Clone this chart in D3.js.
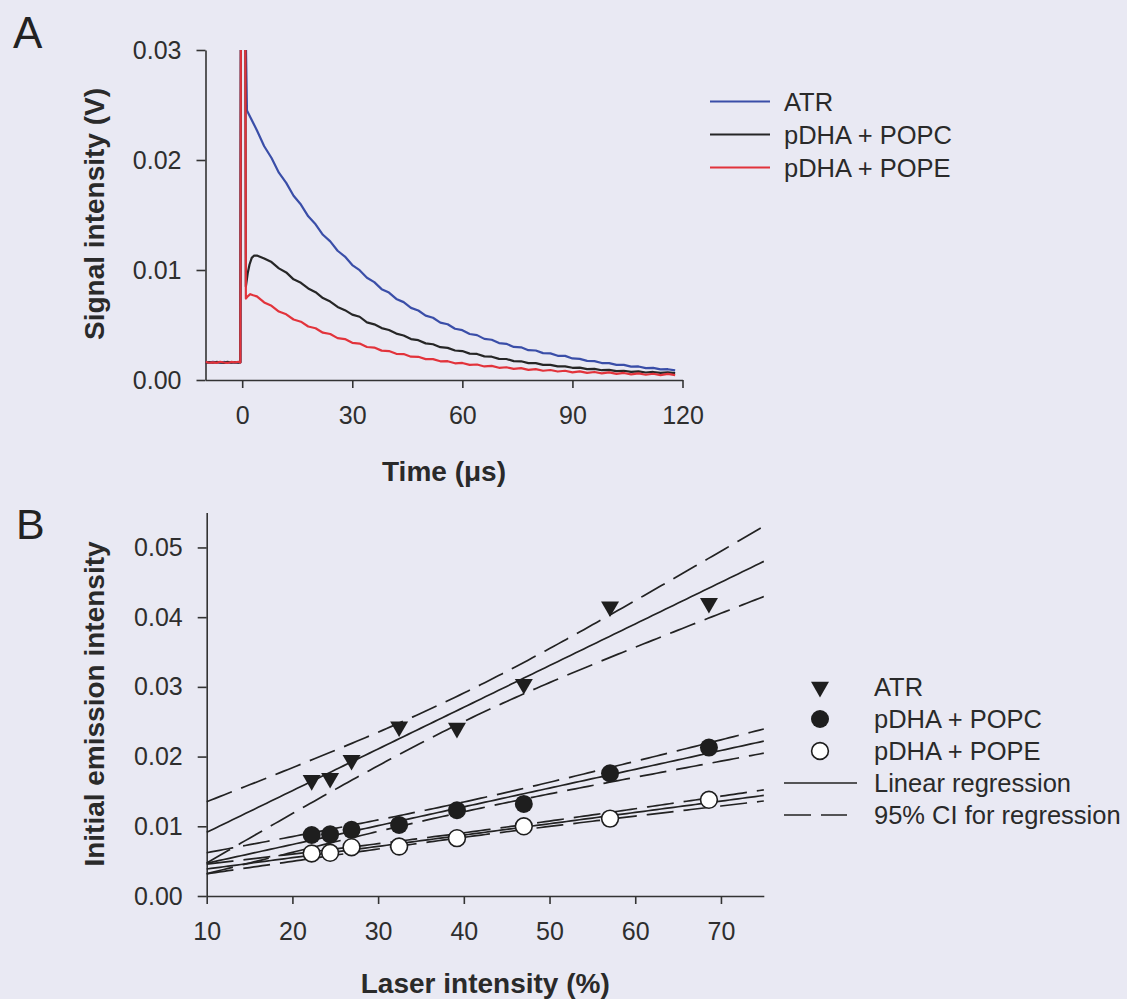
<!DOCTYPE html>
<html><head><meta charset="utf-8">
<script src="https://cdn.jsdelivr.net/npm/d3@7"></script>
<style>
html,body{margin:0;padding:0;background:#e9e9f3;}
svg{display:block;}
</style></head><body>
<svg id="chart" width="1127" height="999"></svg>
<script>
// ---------------- Panel A data (time traces) ----------------
const xTicksA = [0, 30, 60, 90, 120];
const yTicksA = [0, 0.01, 0.02, 0.03];
const seriesA = ["ATR", "pDHA + POPC", "pDHA + POPE"];
const baseT = [-10, -9, -8, -7, -6, -5, -4, -3, -2, -1, -0.5];
const atrBase  = [0.00162,0.00158,0.00165,0.00160,0.00157,0.00164,0.00159,0.00163,0.00158,0.00161,0.00160];
const popcBase = [0.00158,0.00163,0.00157,0.00164,0.00160,0.00156,0.00165,0.00158,0.00162,0.00157,0.00161];
const popeBase = [0.00165,0.00157,0.00161,0.00156,0.00166,0.00159,0.00155,0.00164,0.00160,0.00166,0.00158];
const spikeT = [-0.35, 0.85];
const spikeV = [0.034, 0.034];
const atrOnsetT  = [1.3];
const atrOnsetV  = [0.0245];
const popcOnsetT = [1.0, 1.5, 2.0, 2.6, 3.2];
const popcOnsetV = [0.0085, 0.0097, 0.0105, 0.0111, 0.0113];
const popeOnsetT = [1.0, 1.5, 2.2, 3.0];
const popeOnsetV = [0.0074, 0.0076, 0.0078, 0.0077];
const decayT = [4,6,8,10,12,14,16,18,20,22,24,26,28,30,32,34,36,38,40,42,44,46,48,50,52,54,56,58,60,62,64,66,68,70,72,74,76,78,80,82,84,86,88,90,92,94,96,98,100,102,104,106,108,110,112,114,116,118];
const atrDecay = [0.02270,0.02125,0.02018,0.01885,0.01792,0.01675,0.01595,0.01488,0.01415,0.01320,0.01260,0.01175,0.01122,0.01045,0.00998,0.00930,0.00890,0.00826,0.00795,0.00737,0.00708,0.00656,0.00632,0.00585,0.00566,0.00522,0.00507,0.00466,0.00453,0.00418,0.00408,0.00374,0.00366,0.00336,0.00329,0.00301,0.00297,0.00271,0.00268,0.00244,0.00242,0.00220,0.00219,0.00196,0.00192,0.00174,0.00172,0.00154,0.00154,0.00137,0.00137,0.00122,0.00123,0.00108,0.00110,0.00096,0.00098,0.00088];
const popcDecay = [0.01132,0.01105,0.01072,0.01015,0.00978,0.00915,0.00884,0.00832,0.00798,0.00745,0.00713,0.00664,0.00635,0.00594,0.00575,0.00524,0.00506,0.00472,0.00455,0.00422,0.00405,0.00372,0.00362,0.00333,0.00325,0.00298,0.00292,0.00268,0.00263,0.00240,0.00237,0.00215,0.00212,0.00192,0.00191,0.00172,0.00170,0.00154,0.00153,0.00138,0.00138,0.00124,0.00124,0.00111,0.00112,0.00099,0.00101,0.00089,0.00092,0.00081,0.00084,0.00074,0.00078,0.00068,0.00073,0.00064,0.00070,0.00062];
const popeDecay = [0.00760,0.00705,0.00674,0.00622,0.00597,0.00550,0.00530,0.00486,0.00470,0.00430,0.00418,0.00381,0.00372,0.00338,0.00331,0.00300,0.00295,0.00267,0.00263,0.00238,0.00236,0.00212,0.00211,0.00190,0.00190,0.00170,0.00171,0.00152,0.00155,0.00137,0.00141,0.00123,0.00128,0.00111,0.00116,0.00101,0.00108,0.00092,0.00099,0.00084,0.00091,0.00077,0.00084,0.00070,0.00078,0.00065,0.00073,0.00060,0.00069,0.00056,0.00064,0.00051,0.00060,0.00048,0.00057,0.00045,0.00055,0.00044];
const coloursA = ["#3a4ea8", "#262626", "#e2333b"];

// ---------------- Panel B data (initial emission vs laser intensity) ----------------
const xTicksB = [10, 20, 30, 40, 50, 60, 70];
const yTicksB = [0, 0.01, 0.02, 0.03, 0.04, 0.05];
const laserIntensity = [22.25, 24.4, 26.9, 32.45, 39.2, 47.0, 57.06, 68.6];
const atrEmission  = [0.0166, 0.0169, 0.0195, 0.0243, 0.0241, 0.0304, 0.0415, 0.0420];
const popcEmission = [0.00875, 0.00885, 0.0095, 0.0102, 0.0123, 0.0132, 0.0176, 0.0213];
const popeEmission = [0.0061, 0.0062, 0.0070, 0.0071, 0.0083, 0.0100, 0.0111, 0.0138];
const legendB = ["ATR", "pDHA + POPC", "pDHA + POPE", "Linear regression", "95% CI for regression"];
const tCrit = 2.4469; // t(0.975, df = 6)

// ================= drawing =================
const svg = d3.select("#chart");
svg.append("rect").attr("width", 1127).attr("height", 999).attr("fill", "#e9e9f3");

const SANS = "'Liberation Sans', Arial, Helvetica, sans-serif";
function styleAxis(g) {
  g.selectAll("path, line").attr("stroke", "#333").attr("stroke-width", 1.6);
  g.selectAll("text").attr("font-family", SANS).attr("font-size", 25).attr("fill", "#2e2e2e");
}

// ---------- Panel A ----------
const xA = d3.scaleLinear().domain([-10, 120]).range([205.5, 682.5]);
const yA = d3.scaleLinear().domain([0, 0.03]).range([380, 50]);
const gA = svg.append("g");

gA.append("g").attr("transform", `translate(0,${yA(0)})`)
  .call(d3.axisBottom(xA).tickValues(xTicksA).tickFormat(d3.format("d")).tickSize(8).tickPadding(18).tickSizeOuter(0))
  .call(styleAxis);
gA.append("g").attr("transform", `translate(${xA(-10)},0)`)
  .call(d3.axisLeft(yA).tickValues(yTicksA).tickFormat(d3.format(".2f")).tickSize(9).tickPadding(15).tickSizeOuter(0))
  .call(styleAxis);

svg.append("clipPath").attr("id", "clipA").append("rect")
  .attr("x", xA(-10)).attr("y", yA(0.03)).attr("width", xA(120) - xA(-10) + 5).attr("height", yA(0) - yA(0.03));

function buildTrace(base, onT, onV, dec) {
  const pts = baseT.map((t, i) => [t, base[i]]);
  spikeT.forEach((t, i) => pts.push([t, spikeV[i]]));
  onT.forEach((t, i) => pts.push([t, onV[i]]));
  decayT.forEach((t, i) => pts.push([t, dec[i]]));
  return pts;
}
const tracesA = [
  buildTrace(atrBase, atrOnsetT, atrOnsetV, atrDecay),
  buildTrace(popcBase, popcOnsetT, popcOnsetV, popcDecay),
  buildTrace(popeBase, popeOnsetT, popeOnsetV, popeDecay)
];
const lineA = d3.line().x(d => xA(d[0])).y(d => yA(d[1]));
const tracesG = gA.append("g").attr("clip-path", "url(#clipA)");
tracesA.forEach((pts, i) => {
  tracesG.append("path").datum(pts).attr("d", lineA)
    .attr("fill", "none").attr("stroke", coloursA[i]).attr("stroke-width", 2.2)
    .attr("stroke-linejoin", "round");
});

// legend A
const legA = gA.append("g");
seriesA.forEach((name, i) => {
  const y = 101.5 + i * 33;
  legA.append("line").attr("x1", 710).attr("x2", 770).attr("y1", y).attr("y2", y)
    .attr("stroke", coloursA[i]).attr("stroke-width", 2.2);
  legA.append("text").attr("x", 784).attr("y", y).attr("dy", "0.36em")
    .attr("font-family", SANS).attr("font-size", 25.5).attr("fill", "#2a2a2a").text(name);
});

gA.append("text").attr("transform", "translate(104,214) rotate(-90)")
  .attr("text-anchor", "middle").attr("font-family", SANS).attr("font-weight", "bold")
  .attr("font-size", 28).attr("fill", "#2a2a2a").text("Signal intensity (V)");
gA.append("text").attr("x", (xA(-10) + xA(120)) / 2).attr("y", 481)
  .attr("text-anchor", "middle").attr("font-family", SANS).attr("font-weight", "bold")
  .attr("font-size", 28).attr("fill", "#2a2a2a").text("Time (μs)");
svg.append("text").attr("x", 13).attr("y", 48).attr("font-family", SANS)
  .attr("font-size", 44).attr("fill", "#222").text("A");

// ---------- Panel B ----------
const xB = d3.scaleLinear().domain([10, 75]).range([206.7, 763.8]);
const yB = d3.scaleLinear().domain([0, 0.055]).range([896, 512.6]);
const gB = svg.append("g");

gB.append("g").attr("transform", `translate(0,${yB(0)})`)
  .call(d3.axisBottom(xB).tickValues(xTicksB).tickFormat(d3.format("d")).tickSize(8).tickPadding(18).tickSizeOuter(0))
  .call(styleAxis);
gB.append("g").attr("transform", `translate(${xB(10)},0)`)
  .call(d3.axisLeft(yB).tickValues(yTicksB).tickFormat(d3.format(".2f")).tickSize(9).tickPadding(15).tickSizeOuter(0))
  .call(styleAxis);

function regression(xs, ys) {
  const n = xs.length;
  const mx = d3.mean(xs), my = d3.mean(ys);
  let sxx = 0, sxy = 0;
  xs.forEach((x, i) => { sxx += (x - mx) ** 2; sxy += (x - mx) * (ys[i] - my); });
  const slope = sxy / sxx, icpt = my - slope * mx;
  let ssr = 0;
  xs.forEach((x, i) => { ssr += (ys[i] - (icpt + slope * x)) ** 2; });
  const s = Math.sqrt(ssr / (n - 2));
  return {n, mx, sxx, slope, icpt, s};
}
const xGrid = d3.range(10, 75.01, 0.5);
const lineB = d3.line().x(d => xB(d[0])).y(d => yB(d[1]));
const fitG = gB.append("g");
[atrEmission, popcEmission, popeEmission].forEach(ys => {
  const r = regression(laserIntensity, ys);
  const fit = xGrid.map(x => [x, r.icpt + r.slope * x]);
  const half = x => tCrit * r.s * Math.sqrt(1 / r.n + (x - r.mx) ** 2 / r.sxx);
  const up = xGrid.map(x => [x, r.icpt + r.slope * x + half(x)]);
  const lo = xGrid.map(x => [x, r.icpt + r.slope * x - half(x)]);
  fitG.append("path").datum(fit).attr("d", lineB).attr("fill", "none")
    .attr("stroke", "#222").attr("stroke-width", 1.7);
  [up, lo].forEach(c => fitG.append("path").datum(c).attr("d", lineB).attr("fill", "none")
    .attr("stroke", "#222").attr("stroke-width", 1.7).attr("stroke-dasharray", "27,10"));
});

const tri = d3.symbol().type(d3.symbolTriangle).size(140);
const markG = gB.append("g");
function drawMarker(g, kind, x, y) {
  if (kind === 0) {
    g.append("path").attr("d", tri()).attr("transform", `translate(${x},${y}) rotate(180)`)
      .attr("fill", "#1e1e1e");
  } else if (kind === 1) {
    g.append("circle").attr("cx", x).attr("cy", y).attr("r", 9).attr("fill", "#1e1e1e");
  } else {
    g.append("circle").attr("cx", x).attr("cy", y).attr("r", 8.4).attr("fill", "#ffffff")
      .attr("stroke", "#1e1e1e").attr("stroke-width", 1.6);
  }
}
[atrEmission, popcEmission, popeEmission].forEach((ys, k) => {
  ys.forEach((v, i) => drawMarker(markG, k, xB(laserIntensity[i]), yB(v)));
});

// legend B
const legB = gB.append("g");
legendB.forEach((name, i) => {
  const y = 687 + i * 32;
  if (i < 3) drawMarker(legB, i, 820, y);
  else {
    const ln = legB.append("line").attr("x1", 784).attr("x2", i === 3 ? 857 : 847)
      .attr("y1", y).attr("y2", y).attr("stroke", "#222").attr("stroke-width", 1.7);
    if (i === 4) ln.attr("stroke-dasharray", "27,10");
  }
  legB.append("text").attr("x", 874).attr("y", y).attr("dy", "0.36em")
    .attr("font-family", SANS).attr("font-size", 25.5).attr("fill", "#2a2a2a").text(name);
});

gB.append("text").attr("transform", "translate(104,704) rotate(-90)")
  .attr("text-anchor", "middle").attr("font-family", SANS).attr("font-weight", "bold")
  .attr("font-size", 28).attr("fill", "#2a2a2a").text("Initial emission intensity");
gB.append("text").attr("x", (xB(10) + xB(75)) / 2).attr("y", 993)
  .attr("text-anchor", "middle").attr("font-family", SANS).attr("font-weight", "bold")
  .attr("font-size", 28).attr("fill", "#2a2a2a").text("Laser intensity (%)");
svg.append("text").attr("x", 16).attr("y", 539).attr("font-family", SANS)
  .attr("font-size", 43).attr("fill", "#222").text("B");
</script>
</body></html>
